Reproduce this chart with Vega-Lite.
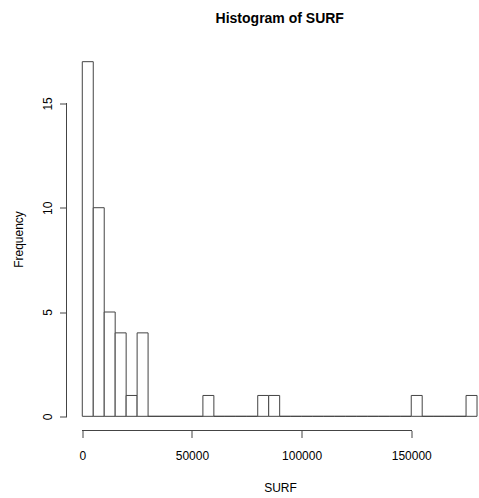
{
  "$schema": "https://vega.github.io/schema/vega-lite/v6.json",
  "width": 412.5,
  "height": 383,
  "autosize": {"type": "none"},
  "padding": {"left": 66.5, "top": 47.5, "right": 0, "bottom": 67.5},
  "background": "white",
  "title": {
    "text": "Histogram of SURF",
    "fontSize": 14,
    "fontWeight": "bold",
    "font": "Liberation Sans",
    "color": "black",
    "anchor": "middle",
    "baseline": "alphabetic",
    "offset": 11,
    "dx": 7
  },
  "data": {
    "values": [
      {"bin_start": 0, "bin_end": 5000, "count": 17},
      {"bin_start": 5000, "bin_end": 10000, "count": 10},
      {"bin_start": 10000, "bin_end": 15000, "count": 5},
      {"bin_start": 15000, "bin_end": 20000, "count": 4},
      {"bin_start": 20000, "bin_end": 25000, "count": 1},
      {"bin_start": 25000, "bin_end": 30000, "count": 4},
      {"bin_start": 30000, "bin_end": 35000, "count": 0},
      {"bin_start": 35000, "bin_end": 40000, "count": 0},
      {"bin_start": 40000, "bin_end": 45000, "count": 0},
      {"bin_start": 45000, "bin_end": 50000, "count": 0},
      {"bin_start": 50000, "bin_end": 55000, "count": 0},
      {"bin_start": 55000, "bin_end": 60000, "count": 1},
      {"bin_start": 60000, "bin_end": 65000, "count": 0},
      {"bin_start": 65000, "bin_end": 70000, "count": 0},
      {"bin_start": 70000, "bin_end": 75000, "count": 0},
      {"bin_start": 75000, "bin_end": 80000, "count": 0},
      {"bin_start": 80000, "bin_end": 85000, "count": 1},
      {"bin_start": 85000, "bin_end": 90000, "count": 1},
      {"bin_start": 90000, "bin_end": 95000, "count": 0},
      {"bin_start": 95000, "bin_end": 100000, "count": 0},
      {"bin_start": 100000, "bin_end": 105000, "count": 0},
      {"bin_start": 105000, "bin_end": 110000, "count": 0},
      {"bin_start": 110000, "bin_end": 115000, "count": 0},
      {"bin_start": 115000, "bin_end": 120000, "count": 0},
      {"bin_start": 120000, "bin_end": 125000, "count": 0},
      {"bin_start": 125000, "bin_end": 130000, "count": 0},
      {"bin_start": 130000, "bin_end": 135000, "count": 0},
      {"bin_start": 135000, "bin_end": 140000, "count": 0},
      {"bin_start": 140000, "bin_end": 145000, "count": 0},
      {"bin_start": 145000, "bin_end": 150000, "count": 0},
      {"bin_start": 150000, "bin_end": 155000, "count": 1},
      {"bin_start": 155000, "bin_end": 160000, "count": 0},
      {"bin_start": 160000, "bin_end": 165000, "count": 0},
      {"bin_start": 165000, "bin_end": 170000, "count": 0},
      {"bin_start": 170000, "bin_end": 175000, "count": 0},
      {"bin_start": 175000, "bin_end": 180000, "count": 1}
    ]
  },
  "encoding": {
    "x": {
      "field": "bin_start",
      "type": "quantitative",
      "scale": {"domain": [-7200, 180900], "nice": false, "zero": false},
      "axis": {
        "values": [0, 50000, 100000, 150000],
        "format": "d",
        "domain": false,
        "grid": false,
        "tickSize": 7,
        "tickColor": "#444444",
        "labelFontSize": 12,
        "labelColor": "black",
        "labelFont": "Liberation Sans",
        "labelPadding": 13,
        "labelFlush": false,
        "title": "SURF",
        "titleFontSize": 12,
        "titleFontWeight": "normal",
        "titleFont": "Liberation Sans",
        "titleColor": "black",
        "titleX": 213.5,
        "titleY": 52
      }
    },
    "y": {
      "field": "count",
      "type": "quantitative",
      "scale": {"domain": [-0.68, 17.68], "nice": false, "zero": false},
      "axis": {
        "values": [0, 5, 10, 15],
        "domain": false,
        "grid": false,
        "tickSize": 7,
        "tickColor": "#444444",
        "labelAngle": -90,
        "labelAlign": "center",
        "labelBaseline": "bottom",
        "labelPadding": 5,
        "labelFontSize": 12,
        "labelColor": "black",
        "labelFont": "Liberation Sans",
        "title": "Frequency",
        "titleFontSize": 12,
        "titleFontWeight": "normal",
        "titleFont": "Liberation Sans",
        "titleColor": "black",
        "titleAngle": -90,
        "titleBaseline": "alphabetic",
        "titleX": -44.5,
        "titleY": 191.5
      }
    }
  },
  "layer": [
    {
      "mark": {"type": "bar", "fill": "white", "stroke": "#444444", "strokeWidth": 1},
      "encoding": {
        "x2": {"field": "bin_end"},
        "y2": {"datum": 0}
      }
    },
    {
      "mark": {"type": "rule", "color": "#444444", "strokeWidth": 1},
      "encoding": {
        "x": {"datum": 0},
        "x2": {"datum": 150000},
        "y": {"datum": -0.68}
      }
    },
    {
      "mark": {"type": "rule", "color": "#444444", "strokeWidth": 1},
      "encoding": {
        "x": {"datum": -7200},
        "y": {"datum": 0},
        "y2": {"datum": 15}
      }
    }
  ],
  "config": {
    "view": {"stroke": null},
    "font": "Liberation Sans"
  }
}
